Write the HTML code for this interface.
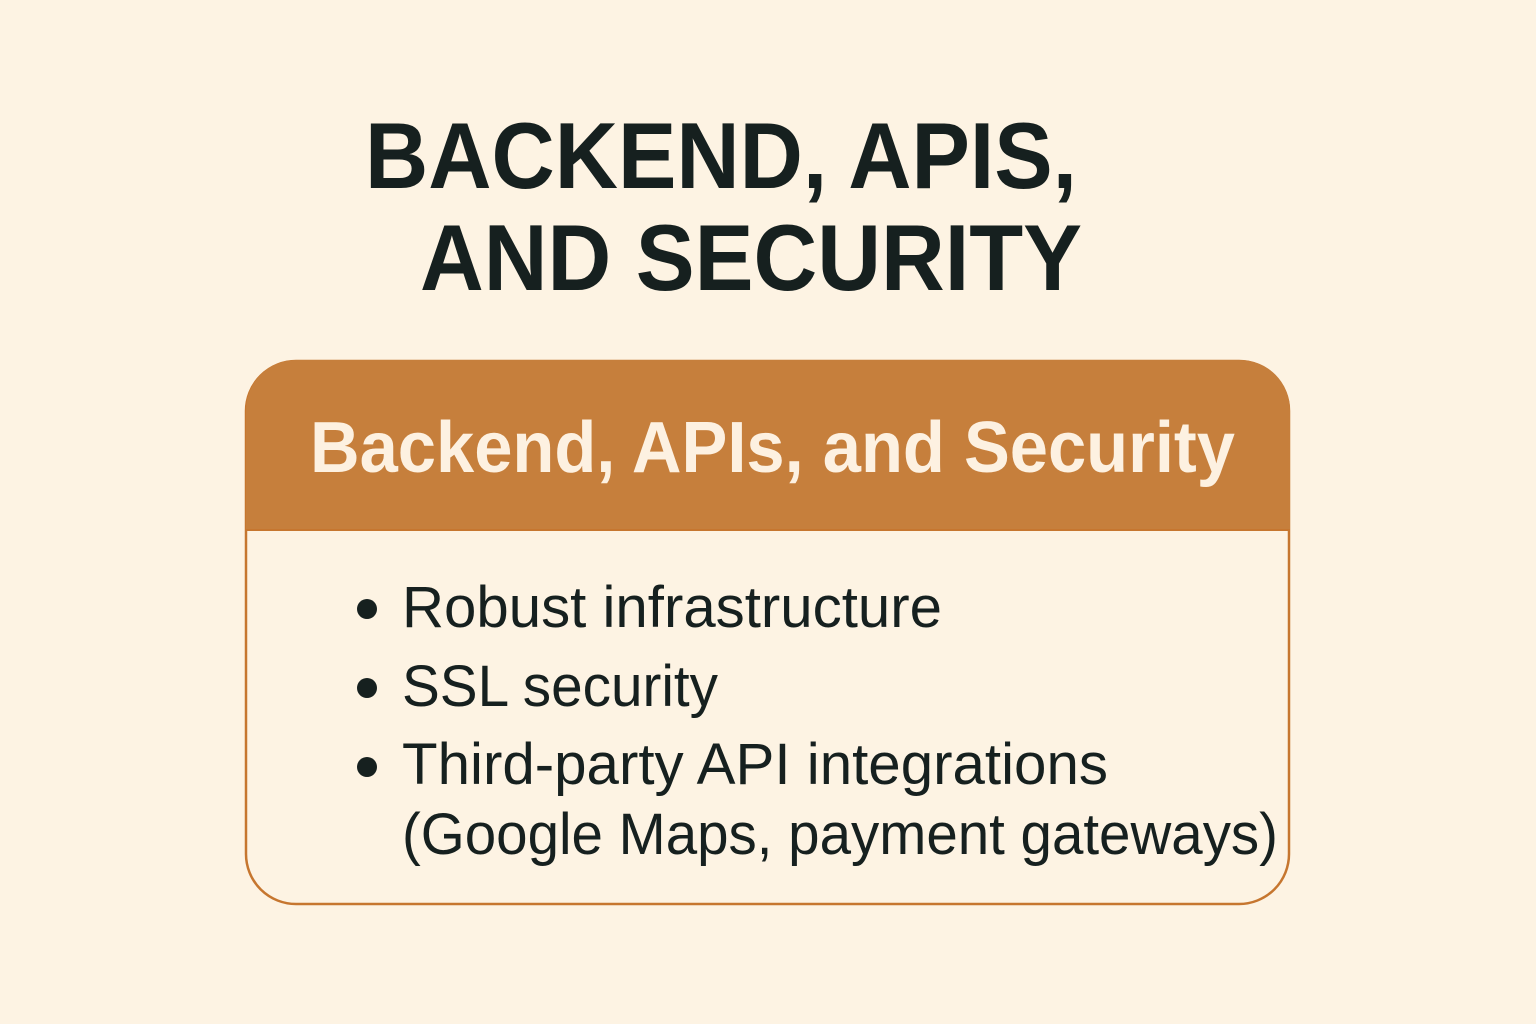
<!DOCTYPE html>
<html><head><meta charset="utf-8"><style>
html,body{margin:0;padding:0;background:#fdf3e3;}
svg{display:block}
</style></head><body>
<svg width="1536" height="1024" xmlns="http://www.w3.org/2000/svg">
<rect width="1536" height="1024" fill="#fdf3e3"/>
<g font-family="Liberation Sans, sans-serif" font-weight="bold" fill="#16201f" font-size="94">
<text x="365" y="188" textLength="712" lengthAdjust="spacingAndGlyphs">BACKEND, APIS,</text>
<text x="420" y="290" textLength="662" lengthAdjust="spacingAndGlyphs">AND SECURITY</text>
</g>
<rect x="246" y="361" width="1043" height="543" rx="50" fill="none" stroke="#c6762f" stroke-width="2.5"/>
<path d="M295,360 H1240 A50,50 0 0 1 1290,410 V530 H246 V410 A50,50 0 0 1 295,360 Z" fill="#c67f3c"/>
<line x1="246" y1="530" x2="1290" y2="530" stroke="#c6762f" stroke-width="2"/>
<text x="310" y="472" font-family="Liberation Sans, sans-serif" font-weight="bold" font-size="72" fill="#fdf1e1" textLength="925" lengthAdjust="spacingAndGlyphs">Backend, APIs, and Security</text>
<g font-family="Liberation Sans, sans-serif" font-size="58" fill="#16201f">
<circle cx="367" cy="609" r="10"/>
<circle cx="367" cy="688" r="10"/>
<circle cx="367" cy="767" r="10"/>
<text x="402" y="627" textLength="540" lengthAdjust="spacingAndGlyphs">Robust infrastructure</text>
<text x="402" y="706" textLength="316" lengthAdjust="spacingAndGlyphs">SSL security</text>
<text x="402" y="784" textLength="706" lengthAdjust="spacingAndGlyphs">Third-party API integrations</text>
<text x="402" y="854" textLength="876" lengthAdjust="spacingAndGlyphs">(Google Maps, payment gateways)</text>
</g>
</svg>
</body></html>
